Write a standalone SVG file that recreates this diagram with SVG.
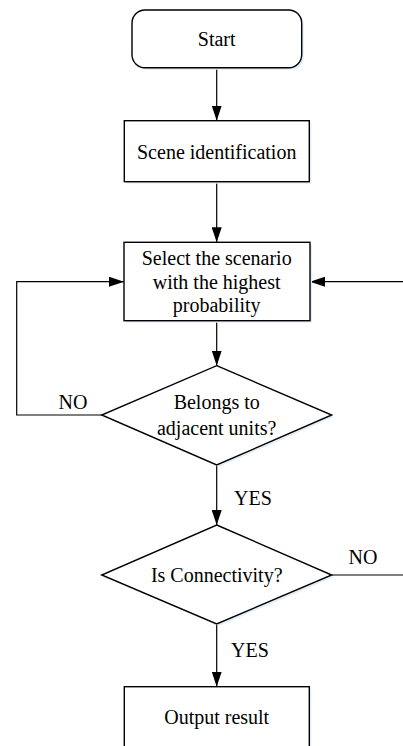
<svg xmlns="http://www.w3.org/2000/svg" width="403" height="746" viewBox="0 0 403 746">
<style>
.shape{fill:#ffffff;stroke:#000000;stroke-width:1.4}
.shadow{fill:#e3edf7;stroke:none}
.conn{fill:none;stroke:#000000;stroke-width:1.2}
.t{font-family:'Liberation Serif','DejaVu Serif',serif;font-size:20px;fill:#000000;text-anchor:middle}
</style>
<defs>
<marker id="arr" viewBox="0 0 15 10" refX="15" refY="5" markerWidth="15" markerHeight="10" markerUnits="userSpaceOnUse" orient="auto">
<path d="M0,0 L15,5 L0,10 Z" fill="#000000"/>
</marker>
</defs>
<g id="connectors">
<line class="conn" x1="216.7" y1="67.7" x2="216.7" y2="120.7" marker-end="url(#arr)"/>
<line class="conn" x1="216.7" y1="181.7" x2="216.7" y2="242.3" marker-end="url(#arr)"/>
<line class="conn" x1="216.7" y1="320.7" x2="216.7" y2="365.7" marker-end="url(#arr)"/>
<polyline class="conn" points="101.7,415 16.7,415 16.7,281.7 124,281.7" marker-end="url(#arr)"/>
<line class="conn" x1="403" y1="281.7" x2="310" y2="281.7" marker-end="url(#arr)"/>
<line class="conn" x1="216.7" y1="465" x2="216.7" y2="525" marker-end="url(#arr)"/>
<line class="conn" x1="331.7" y1="575" x2="403" y2="575"/>
<line class="conn" x1="216.7" y1="624" x2="216.7" y2="686.7" marker-end="url(#arr)"/>
<text class="t" x="73" y="408.5">NO</text>
<text class="t" x="253" y="505">YES</text>
<text class="t" x="363" y="563.5">NO</text>
<text class="t" x="250" y="657">YES</text>
</g>
<g id="start">
<rect class="shadow" x="134" y="12" width="169.7" height="57.7" rx="13"/>
<rect class="shape" x="132" y="10" width="169.7" height="57.7" rx="13"/>
<text class="t" x="216.7" y="45.5">Start</text>
</g>
<g id="scene">
<rect class="shadow" x="126.3" y="122.7" width="185" height="61"/>
<rect class="shape" x="124.3" y="120.7" width="185" height="61"/>
<text class="t" x="216.7" y="158.5">Scene identification</text>
</g>
<g id="select">
<rect class="shadow" x="126" y="244.3" width="186" height="78.4"/>
<rect class="shape" x="124" y="242.3" width="186" height="78.4"/>
<text class="t" x="216.7" y="265">Select the scenario</text>
<text class="t" x="216.7" y="288.5">with the highest</text>
<text class="t" x="216.7" y="312">probability</text>
</g>
<g id="belongs">
<polygon class="shadow" points="218.7,367.7 333.7,417 218.7,467 103.7,417"/>
<polygon class="shape" points="216.7,365.7 331.7,415 216.7,465 101.7,415"/>
<text class="t" x="216.7" y="408.5">Belongs to</text>
<text class="t" x="216.7" y="435">adjacent units?</text>
</g>
<g id="connectivity">
<polygon class="shadow" points="218.7,527 333.7,577 218.7,626 103.7,577"/>
<polygon class="shape" points="216.7,525 331.7,575 216.7,624 101.7,575"/>
<text class="t" x="216.7" y="582">Is Connectivity?</text>
</g>
<g id="output">
<rect class="shadow" x="126.3" y="688.7" width="185" height="70"/>
<rect class="shape" x="124.3" y="686.7" width="185" height="70"/>
<text class="t" x="216.7" y="723.5">Output result</text>
</g>
</svg>
